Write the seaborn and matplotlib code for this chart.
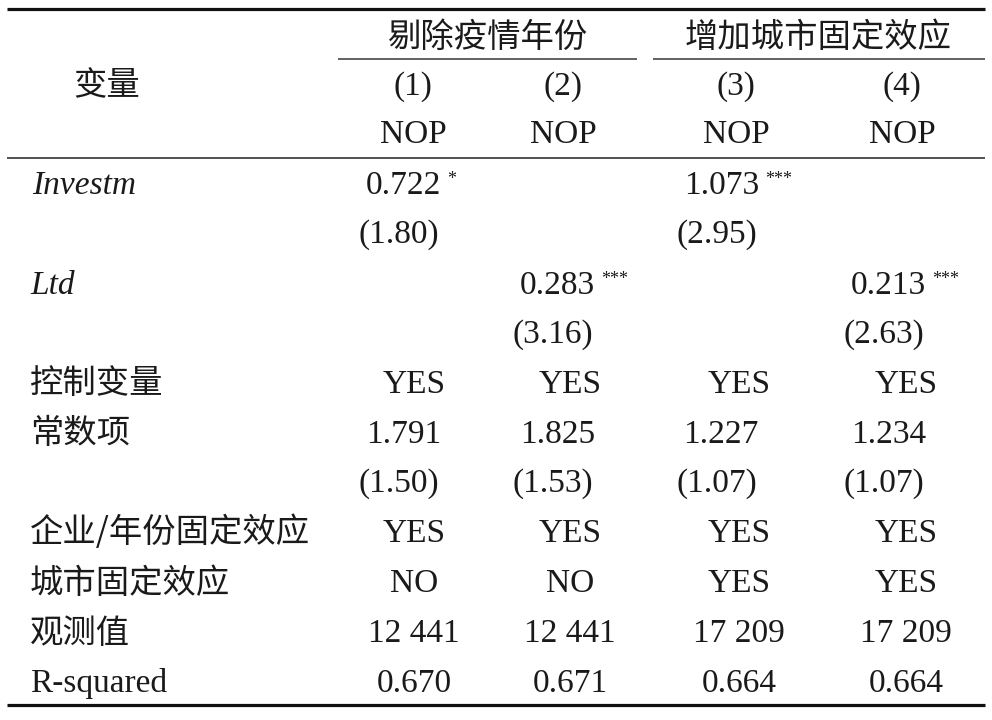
import matplotlib
matplotlib.use("Agg")
import matplotlib.pyplot as plt
import seaborn as sns

# ==========================================
# 表格数据
# ==========================================
group_titles = ["剔除疫情年份", "增加城市固定效应"]
model_nums = ["(1)", "(2)", "(3)", "(4)"]
dep_vars = ["NOP", "NOP", "NOP", "NOP"]

investm_coef = ["0.722", "", "1.073", ""]
investm_star = ["*", "", "***", ""]
investm_t = ["(1.80)", "", "(2.95)", ""]

ltd_coef = ["", "0.283", "", "0.213"]
ltd_star = ["", "***", "", "***"]
ltd_t = ["", "(3.16)", "", "(2.63)"]

controls = ["YES", "YES", "YES", "YES"]
const_coef = ["1.791", "1.825", "1.227", "1.234"]
const_t = ["(1.50)", "(1.53)", "(1.07)", "(1.07)"]
firm_year_fe = ["YES", "YES", "YES", "YES"]
city_fe = ["NO", "NO", "YES", "YES"]
n_obs = ["12 441", "12 441", "17 209", "17 209"]
r_squared = ["0.670", "0.671", "0.664", "0.664"]

# ==========================================
# 版面参数 (像素坐标)
# ==========================================
W, H = 992, 720
head_center = [413, 563, 736, 902]
col_center = [414, 570, 739, 906]
col_right = [441, 595, 759, 926]
label_x = 30
row_y = [183, 232, 283, 332, 382, 432, 481, 531, 581, 631, 681]
fs = 24
cjk = ["Noto Sans CJK SC", "DejaVu Sans"]
serif = ["Liberation Serif", "DejaVu Serif"]
ink = "#1a1a1a"

sns.set_theme(style="white")
plt.rcParams["font.family"] = cjk

fig = plt.figure(figsize=(W / 100, H / 100), dpi=100)
ax = fig.add_axes([0, 0, 1, 1])
ax.set_xlim(0, W)
ax.set_ylim(H, 0)
ax.axis("off")
sns.despine(ax=ax, left=True, bottom=True)


def latin(x, y, s, ha="center", style="normal", size=fs):
    # 基线 = 行中心 + 11 px
    ax.text(x, y + 11, s, ha=ha, va="baseline", family=serif, fontstyle=style,
            fontsize=size, color=ink)


def chinese(x, y, s, ha="left"):
    ax.text(x, y + 2, s, ha=ha, va="center", family=cjk, fontsize=fs, color=ink)


# 横线
ax.hlines(8.5, 7, 985, color="#111111", lw=2.3)
ax.hlines(158, 7, 985, color="#333333", lw=1.2)
ax.hlines(705, 7, 985, color="#111111", lw=2.3)
ax.hlines(59, 338, 637, color="#555555", lw=1.3)
ax.hlines(59, 653, 985, color="#555555", lw=1.3)

# 表头
chinese(487, 35, group_titles[0], ha="center")
chinese(818, 35, group_titles[1], ha="center")
chinese(107, 84, "变量", ha="center")
for i in range(4):
    latin(head_center[i], 84, model_nums[i])
    latin(head_center[i], 132, dep_vars[i])

# 系数行
latin(label_x + 2, row_y[0], "Investm", ha="left", style="italic")
latin(label_x, row_y[2], "Ltd", ha="left", style="italic")


def coef_row(y, coefs, stars):
    for i in range(4):
        if coefs[i]:
            latin(col_right[i], y, coefs[i], ha="right")
        if stars[i]:
            ax.text(col_right[i] + 6, y - 12, stars[i], ha="left", va="top",
                    family=serif, fontsize=13, color=ink)


def t_row(y, ts):
    for i in range(4):
        if ts[i]:
            latin(col_right[i] - 2, y, ts[i], ha="right")


coef_row(row_y[0], investm_coef, investm_star)
t_row(row_y[1], investm_t)
coef_row(row_y[2], ltd_coef, ltd_star)
t_row(row_y[3], ltd_t)

chinese(label_x, row_y[4], "控制变量")
for i in range(4):
    latin(col_center[i], row_y[4], controls[i])

chinese(label_x, row_y[5], "常数项")
coef_row(row_y[5], const_coef, ["", "", "", ""])
t_row(row_y[6], const_t)

chinese(label_x, row_y[7], "企业/年份固定效应")
chinese(label_x, row_y[8], "城市固定效应")
chinese(label_x, row_y[9], "观测值")
latin(label_x, row_y[10], "R-squared", ha="left")
for i in range(4):
    latin(col_center[i], row_y[7], firm_year_fe[i])
    latin(col_center[i], row_y[8], city_fe[i])
    latin(col_center[i], row_y[9], n_obs[i])
    latin(col_center[i], row_y[10], r_squared[i])

fig.savefig("out.png", dpi=100, facecolor="white")
plt.close(fig)
